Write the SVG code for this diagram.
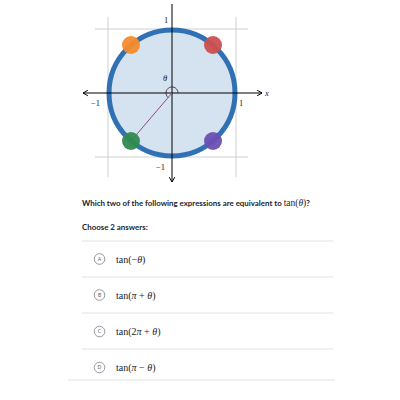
<svg xmlns="http://www.w3.org/2000/svg" width="400" height="400" viewBox="0 0 400 400">
<style>
.grid{stroke:#cfcfcf;stroke-width:1}
.axis{stroke:#000;stroke-width:1;fill:none}
.lab{font-family:"Liberation Serif","DejaVu Serif",serif;font-size:8.5px;fill:#222}
.it{font-style:italic}
.q{font-family:Lato,"Liberation Sans",sans-serif;font-size:7.9px;font-weight:bold;fill:#21242c}
.qm{font-family:"Liberation Serif","DejaVu Serif",serif;font-size:9.5px;font-weight:normal;fill:#21242c}
.sep{stroke:#e2e2e2;stroke-width:1}
.opt circle{fill:#fff;stroke:#8a8d93;stroke-width:0.9}
.let{font-family:Lato,"Liberation Sans",sans-serif;font-size:5px;fill:#55585e;text-anchor:middle}
.math{font-family:"Liberation Serif","DejaVu Serif",serif;font-size:10px;fill:#21242c}
.dot{opacity:0.95}
</style>
<defs>
<marker id="arr" viewBox="0 0 10 10" refX="9" refY="5" markerWidth="7" markerHeight="7" orient="auto-start-reverse" markerUnits="userSpaceOnUse">
<path d="M2,1 L9,5 L2,9" fill="none" stroke="#000" stroke-width="1.4"/>
</marker>
</defs>
<g id="grid">
<line class="grid" x1="108" y1="17" x2="108" y2="177"/>
<line class="grid" x1="236" y1="17" x2="236" y2="177"/>
<line class="grid" x1="95" y1="29" x2="248" y2="29"/>
<line class="grid" x1="95" y1="157" x2="248" y2="157"/>
</g>
<g id="unit-circle">
<circle cx="172" cy="93" r="63" fill="#d5e2f0" stroke="#2f71b4" stroke-width="5"/>
</g>
<g id="connectors">
<line class="axis" x1="83" y1="93" x2="262" y2="93" marker-start="url(#arr)" marker-end="url(#arr)"/>
<line class="axis" x1="172" y1="4" x2="172" y2="182" marker-end="url(#arr)"/>
<line x1="172" y1="93" x2="131" y2="141" stroke="#8e4b8e" stroke-width="1"/>
<path d="M178,93 A6,6 0 1 0 168.1,97.5" fill="none" stroke="#222" stroke-width="0.8"/>
</g>
<g id="labels">
<text class="lab" x="164" y="23">1</text>
<text class="lab" x="91" y="106">−1</text>
<text class="lab" x="239" y="106">1</text>
<text class="lab" x="156" y="170">−1</text>
<text class="lab it" x="265" y="96">x</text>
<text class="lab it" x="163" y="81">θ</text>
</g>
<g id="points">
<circle id="p-orange" class="dot" cx="131" cy="45" r="9" fill="#f68b2a"/>
<circle id="p-red" class="dot" cx="213" cy="45" r="9" fill="#cc4f4f"/>
<circle id="p-green" class="dot" cx="131" cy="141" r="9" fill="#2f8a4f"/>
<circle id="p-purple" class="dot" cx="213" cy="141" r="9" fill="#6c4fb1"/>
</g>
<g id="question">
<text class="q" x="82" y="206">Which two of the following expressions are equivalent to <tspan class="qm">tan(<tspan font-style="italic">θ</tspan>)</tspan>?</text>
<text class="q" x="82" y="230">Choose 2 answers:</text>
</g>
<g id="separators">
<line class="sep" x1="82" y1="241" x2="333" y2="241"/>
<line class="sep" x1="82" y1="277" x2="333" y2="277"/>
<line class="sep" x1="82" y1="313" x2="333" y2="313"/>
<line class="sep" x1="82" y1="349" x2="333" y2="349"/>
<line class="sep" x1="68" y1="380" x2="335" y2="380" stroke="#d6d6d6"/>
</g>
<g id="option-a" class="opt">
<circle cx="99.5" cy="259" r="5.3"/>
<text class="let" x="99.5" y="260.8">A</text>
<text class="math" x="116" y="262.5">tan(−<tspan font-style="italic">θ</tspan>)</text>
</g>
<g id="option-b" class="opt">
<circle cx="99.5" cy="295" r="5.3"/>
<text class="let" x="99.5" y="296.8">B</text>
<text class="math" x="116" y="298.5">tan(<tspan font-style="italic">π</tspan> + <tspan font-style="italic">θ</tspan>)</text>
</g>
<g id="option-c" class="opt">
<circle cx="99.5" cy="331.5" r="5.3"/>
<text class="let" x="99.5" y="333.3">C</text>
<text class="math" x="116" y="335">tan(2<tspan font-style="italic">π</tspan> + <tspan font-style="italic">θ</tspan>)</text>
</g>
<g id="option-d" class="opt">
<circle cx="99.5" cy="367.5" r="5.3"/>
<text class="let" x="99.5" y="369.3">D</text>
<text class="math" x="116" y="371">tan(<tspan font-style="italic">π</tspan> − <tspan font-style="italic">θ</tspan>)</text>
</g>
</svg>
